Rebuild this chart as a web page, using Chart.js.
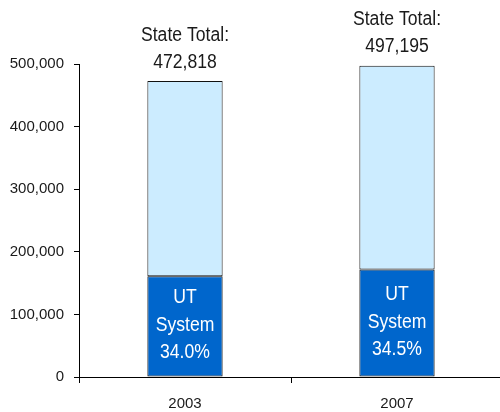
<!DOCTYPE html>
<html lang="en">
<head>
<meta charset="UTF-8">
<title>UT System share of state total</title>
<script src="https://cdn.jsdelivr.net/npm/chart.js"></script>
<style>
  html, body { margin: 0; padding: 0; background: #fff; overflow: hidden; }
</style>
</head>
<body>
<!-- a bit wider than the window: the original's x axis runs off the right edge -->
<canvas id="chart" width="506" height="412"></canvas>
<script>
// data
const years = ['2003', '2007'];
const utValues = [160758, 171532];
const restValues = [312060, 325663];
const stateTotals = ['472,818', '497,195'];
const utShares = ['34.0%', '34.5%'];
const totalsRaw = [472818, 497195];

const FONT = "'Liberation Sans Narrow', 'Liberation Sans', Arial, sans-serif";

// draw text squeezed a bit horizontally, like the narrow font in the original
function narrowText(ctx, txt, x, y) {
  ctx.save();
  ctx.translate(x, y);
  ctx.scale(0.88, 1);
  ctx.fillText(txt, 0, 0);
  ctx.restore();
}

// text inside the bars and above them
const labelPlugin = {
  id: 'labels',
  afterDatasetsDraw(chart) {
    const ctx = chart.ctx;
    const ut = chart.getDatasetMeta(0);
    const yScale = chart.scales.y;
    ctx.save();
    ctx.textAlign = 'center';
    ctx.textBaseline = 'middle';
    ctx.font = '20px ' + FONT;
    ut.data.forEach((bar, i) => {
      const mid = (bar.y + bar.base) / 2;
      ctx.fillStyle = '#ffffff';
      narrowText(ctx, 'UT', bar.x, mid - 29);
      narrowText(ctx, 'System', bar.x, mid - 1);
      narrowText(ctx, utShares[i], bar.x, mid + 26);
      const top = yScale.getPixelForValue(totalsRaw[i]);
      ctx.fillStyle = '#1a1a1a';
      narrowText(ctx, 'State Total:', bar.x, top - 46);
      narrowText(ctx, stateTotals[i], bar.x, top - 19);
    });
    ctx.restore();
  }
};

new Chart(document.getElementById('chart'), {
  type: 'bar',
  data: {
    labels: years,
    datasets: [
      {
        label: 'UT System',
        data: utValues,
        backgroundColor: '#0066CC',
        borderColor: '#000',
        borderWidth: 1,
        borderSkipped: false,
        barPercentage: 0.355,
        categoryPercentage: 1
      },
      {
        label: 'Other',
        data: restValues,
        backgroundColor: '#CCECFF',
        borderColor: '#111',
        borderWidth: 1,
        borderSkipped: false,
        barPercentage: 0.355,
        categoryPercentage: 1
      }
    ]
  },
  options: {
    responsive: false,
    animation: false,
    maintainAspectRatio: false,
    layout: { padding: { top: 64, right: 3, left: 0, bottom: 0 } },
    plugins: {
      legend: { display: false },
      tooltip: { enabled: false }
    },
    scales: {
      x: {
        stacked: true,
        grid: {
          offset: true,
          drawOnChartArea: false,
          drawTicks: true,
          tickLength: 6,
          color: '#000'
        },
        border: { color: '#000', width: 1 },
        ticks: { color: '#1a1a1a', font: { family: FONT, size: 15 }, padding: 12 },
        afterFit(scale) { scale.height = 35; }
      },
      y: {
        stacked: true,
        min: 0,
        max: 500000,
        grid: {
          drawOnChartArea: false,
          drawTicks: true,
          tickLength: 5,
          color: '#000'
        },
        border: { color: '#000', width: 1 },
        ticks: {
          stepSize: 100000,
          color: '#1a1a1a',
          padding: 10,
          font: { family: FONT, size: 15 },
          callback: v => v.toLocaleString('en-US')
        },
        afterFit(scale) { scale.width = 79; }
      }
    }
  },
  plugins: [labelPlugin]
});
</script>
</body>
</html>
